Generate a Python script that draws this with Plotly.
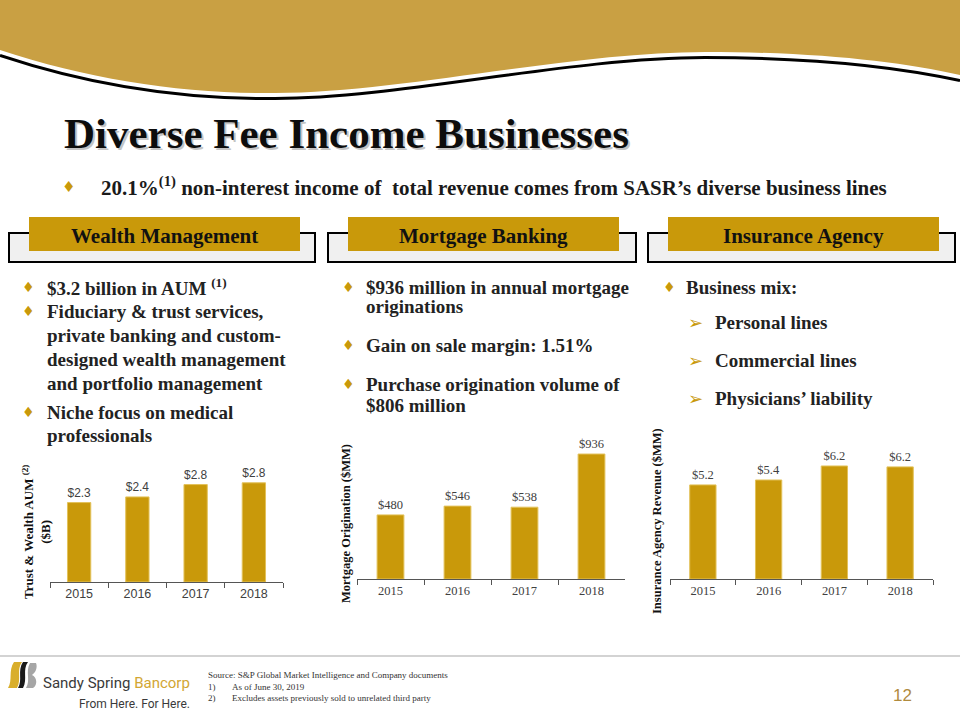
import plotly.graph_objects as go

W, H = 960, 720
def X(x): return x / W
def Y(y): return 1 - y / H

# ---------------- data ----------------
years = ["2015", "2016", "2017", "2018"]
aum_values = [2.25, 2.41, 2.76, 2.81]
aum_labels = ["$2.3", "$2.4", "$2.8", "$2.8"]
mort_values = [480, 546, 538, 936]
mort_labels = ["$480", "$546", "$538", "$936"]
ins_values = [5.17, 5.44, 6.21, 6.16]
ins_labels = ["$5.2", "$5.4", "$6.2", "$6.2"]

GOLD = "#C9990A"
BANNER = "#C9A043"
SERIF = "Liberation Serif"
SANS = "Liberation Sans"

fig = go.Figure()

def add_bars(vals, labels, ax, font_family):
    fig.add_trace(go.Bar(
        x=years, y=vals, text=labels, textposition="outside",
        textfont=dict(family=font_family, size=12.5, color="#404040"),
        marker=dict(color=GOLD, line=dict(color="#E3C25A", width=1)),
        cliponaxis=False, xaxis="x" + ax, yaxis="y" + ax, showlegend=False,
        hoverinfo="skip"))

add_bars(aum_values, aum_labels, "", SANS)
add_bars(mort_values, mort_labels, "2", SERIF)
add_bars(ins_values, ins_labels, "3", SERIF)

def xax(x0, x1, fam):
    return dict(domain=[X(x0), X(x1)], showline=True, linecolor="#555", linewidth=1,
                ticks="outside", tickson="boundaries", ticklen=5, tickcolor="#555",
                tickfont=dict(family=fam, size=12.5, color="#404040"),
                showgrid=False, fixedrange=True)

def yax(y0, y1, r, anchor):
    return dict(domain=[Y(y0), Y(y1)], range=[0, r], visible=False, showgrid=False,
                anchor=anchor, fixedrange=True)

fig.update_layout(
    width=W, height=H, margin=dict(l=0, r=0, t=0, b=0),
    paper_bgcolor="white", plot_bgcolor="rgba(0,0,0,0)", bargap=0.6,
    xaxis=dict(**xax(50, 283, SANS), anchor="y"),
    yaxis=yax(582, 442, 140 / 35.3, "x"),
    xaxis2=dict(**xax(357, 625, SERIF), anchor="y2"),
    yaxis2=yax(579, 440, 139 / 0.1335, "x2"),
    xaxis3=dict(**xax(670, 933, SERIF), anchor="y3"),
    yaxis3=yax(579, 440, 139 / 18.2, "x3"),
)

shapes = []
# ---------- banner wave ----------
def wave(dy):
    pts = [(0, 50), (90, 80), (185, 94), (275, 93), (400, 93), (570, 52), (705, 52),
           (820, 52), (900, 62), (960, 75)]
    p = [(X(x), Y(y + dy)) for x, y in pts]
    s = f"M {p[0][0]},{p[0][1]} "
    for i in range(1, len(p), 3):
        s += f"C {p[i][0]},{p[i][1]} {p[i+1][0]},{p[i+1][1]} {p[i+2][0]},{p[i+2][1]} "
    return s

gold_path = wave(0) + "L 1,1 L 0,1 Z"
shapes.append(dict(type="path", xref="paper", yref="paper", path=gold_path,
                   fillcolor=BANNER, line=dict(width=0), layer="below"))
shapes.append(dict(type="path", xref="paper", yref="paper", path=wave(5.5),
                   line=dict(color="black", width=3), layer="below"))

# ---------- header boxes ----------
panels = [(9, 315, 29, 300, "Wealth Management"),
          (328, 636, 348, 619, "Mortgage Banking"),
          (648, 955, 668, 939, "Insurance Agency")]
annotations = []
for ox0, ox1, gx0, gx1, label in panels:
    shapes.append(dict(type="rect", xref="paper", yref="paper", x0=X(ox0), x1=X(ox1),
                       y0=Y(262), y1=Y(233), fillcolor="#F0F0F0",
                       line=dict(color="black", width=2), layer="below"))
    shapes.append(dict(type="rect", xref="paper", yref="paper", x0=X(gx0), x1=X(gx1),
                       y0=Y(251), y1=Y(217), fillcolor=GOLD,
                       line=dict(width=0), layer="below"))
    annotations.append(dict(x=X((gx0 + gx1) / 2), y=Y(236), text=f"<b>{label}</b>",
                            font=dict(family=SERIF, size=21, color="#111"),
                            xanchor="center", yanchor="middle"))

# footer line
shapes.append(dict(type="line", xref="paper", yref="paper", x0=0, x1=1, y0=Y(656), y1=Y(656),
                   line=dict(color="#D3D3D3", width=2)))

# logo stripes
def path_px(cmds):
    out = []
    for c in cmds:
        if isinstance(c, str):
            out.append(c)
        else:
            out.append(f"{X(c[0])},{Y(c[1])}")
    return " ".join(out)

shapes.append(dict(type="path", xref="paper", yref="paper", fillcolor="#D9AE2B", line=dict(width=0),
                   path=path_px(["M", (14, 662), "L", (22, 662), "C", (16, 670), (22, 679), (17, 688),
                                 "L", (8, 688), "C", (13, 680), (8, 671), (14, 662), "Z"])))
shapes.append(dict(type="path", xref="paper", yref="paper", fillcolor="#1A1A1A", line=dict(width=0),
                   path=path_px(["M", (23, 662), "L", (28, 662), "C", (22, 670), (28, 679), (23, 688),
                                 "L", (18, 688), "C", (23, 680), (17, 671), (23, 662), "Z"])))
shapes.append(dict(type="path", xref="paper", yref="paper", fillcolor="#A6A6A6", line=dict(width=0),
                   path=path_px(["M", (30, 663), "L", (36, 663), "C", (38, 668), (35, 673), (32, 675),
                                 "C", (37, 677), (38, 685), (33, 688), "L", (26, 688),
                                 "C", (31, 680), (25, 672), (30, 663), "Z"])))

# ---------- text ----------
def txt(x, y, s, size, color="#1a1a1a", fam=SERIF, xa="left", ang=0):
    annotations.append(dict(x=X(x), y=Y(y), text=s, font=dict(family=fam, size=size, color=color),
                            xanchor=xa, yanchor="middle", textangle=ang, showarrow=False))

# title with soft shadow
txt(64, 135, "<b>Diverse Fee Income Businesses</b>", 43, color="#C4C4C4")
txt(62, 133, "<b>Diverse Fee Income Businesses</b>", 43, color="#0d0d0d")

# subtitle
txt(60, 187, "♦", 15, color=GOLD, fam="DejaVu Sans")
txt(99, 187, "<b>20.1%<sup>(1)</sup> non-interest income of  total revenue comes from SASR’s diverse business lines</b>",
    21, color="#1a1a1a")

BS = 19
TC = "#222"
def diamond(x, y):
    txt(x, y, "♦", 14, color=GOLD, fam="DejaVu Sans")

# column 1
diamond(20, 287)
txt(45, 287, "<b>$3.2 billion in AUM <sup>(1)</sup></b>", BS, TC)
diamond(20, 311)
txt(45, 311, "<b>Fiduciary &amp; trust services,</b>", BS, TC)
txt(45, 335, "<b>private banking and custom-</b>", BS, TC)
txt(45, 359, "<b>designed wealth management</b>", BS, TC)
txt(45, 383, "<b>and portfolio management</b>", BS, TC)
diamond(20, 412)
txt(45, 412, "<b>Niche focus on medical</b>", BS, TC)
txt(45, 435, "<b>professionals</b>", BS, TC)

# column 2
diamond(340, 287)
txt(364, 287, "<b>$936 million in annual mortgage</b>", BS, TC)
txt(364, 306, "<b>originations</b>", BS, TC)
diamond(340, 345)
txt(364, 345, "<b>Gain on sale margin: 1.51%</b>", BS, TC)
diamond(340, 384)
txt(364, 384, "<b>Purchase origination volume of</b>", BS, TC)
txt(364, 405, "<b>$806 million</b>", BS, TC)

# column 3
diamond(661, 287)
txt(684, 287, "<b>Business mix:</b>", BS, TC)
for yy, s in [(322, "Personal lines"), (360, "Commercial lines"), (398, "Physicians’ liability")]:
    txt(686, yy, "➢", 18, color=GOLD, fam="DejaVu Sans")
    txt(713, yy, f"<b>{s}</b>", BS, TC)

# axis titles
txt(36, 532, "<b>Trust &amp; Wealth AUM <sup>(2)</sup><br>($B)</b>", 13, "#111", xa="center", ang=-90)
txt(346, 524, "<b>Mortgage Origination ($MM)</b>", 12.5, "#111", xa="center", ang=-90)
txt(657, 521, "<b>Insurance Agency Revenue ($MM)</b>", 12.5, "#111", xa="center", ang=-90)

# footer
txt(41, 683, "Sandy Spring <span style='color:#D2A632'>Bancorp</span>", 15, "#3a3a3a", fam="Roboto")
txt(192, 704, "From Here. For Here.", 12, "#3a3a3a", fam="Roboto", xa="right")
txt(206, 675, "Source: S&amp;P Global Market Intelligence and Company documents", 9, "#333")
txt(206, 687, "1)", 9, "#333")
txt(230, 687, "As of June 30, 2019", 9, "#333")
txt(206, 698, "2)", 9, "#333")
txt(230, 698, "Excludes assets previously sold to unrelated third party", 9, "#333")
txt(902, 695, "12", 17, "#B08A3E", fam=SANS, xa="center")

for a in annotations:
    a.setdefault("xref", "paper")
    a.setdefault("yref", "paper")
    a["showarrow"] = False

fig.update_layout(shapes=shapes, annotations=annotations)
fig.write_html("out.html")
